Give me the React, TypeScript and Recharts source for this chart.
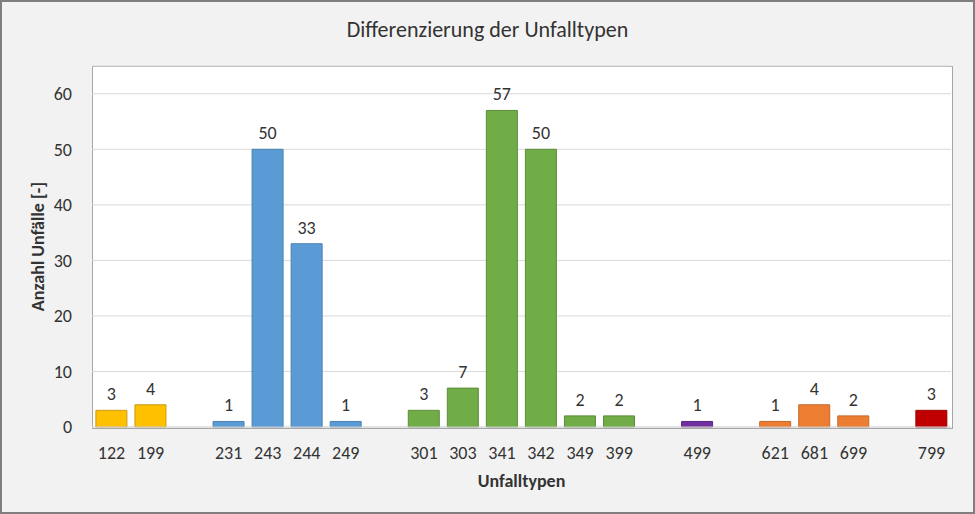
import { BarChart, Bar, XAxis, YAxis, CartesianGrid, Cell, LabelList } from "recharts";

// Unfalltyp codes; empty strings are the spacer slots between the groups
const categories = ["122", "199", "", "231", "243", "244", "249", "", "301", "303", "341", "342", "349", "399", "", "499", "", "621", "681", "699", "", "799"];
const counts: (number | null)[] = [3, 4, null, 1, 50, 33, 1, null, 3, 7, 57, 50, 2, 2, null, 1, null, 1, 4, 2, null, 3];
const groups = ["gelb", "gelb", "", "blau", "blau", "blau", "blau", "", "gruen", "gruen", "gruen", "gruen", "gruen", "gruen", "", "lila", "", "orange", "orange", "orange", "", "rot"];
const yTicks = [0, 10, 20, 30, 40, 50, 60];

const fills: Record<string, string> = {
  gelb: "#FFC000",
  blau: "#5B9BD5",
  gruen: "#70AD47",
  lila: "#7030A0",
  orange: "#ED7D31",
  rot: "#C00000",
};
const strokes: Record<string, string> = {
  gelb: "#c89a10",
  blau: "#4a80b0",
  gruen: "#5b8c3a",
  lila: "#5a2685",
  orange: "#c4682a",
  rot: "#9a0000",
};

const data = categories.map((c, i) => ({ code: c, anzahl: counts[i], group: groups[i] }));

const font = "Calibri, Carlito, 'Open Sans', sans-serif";

export default function App() {
  return (
    <div
      style={{
        position: "absolute",
        left: 0,
        top: 0,
        width: 975,
        height: 514,
        boxSizing: "border-box",
        border: "2px solid #7f7f7f",
        background: "#f2f2f2",
        fontFamily: font,
      }}
    >
      <div
        style={{
          position: "absolute",
          left: 0,
          right: 0,
          top: 14,
          textAlign: "center",
          fontSize: 22,
          color: "#333",
        }}
      >
        Differenzierung der Unfalltypen
      </div>
      <div
        style={{
          position: "absolute",
          left: 90,
          top: 64,
          width: 859,
          height: 361,
          background: "#fff",
          border: "1px solid #a6a6a6",
        }}
      />
      <div style={{ position: "absolute", left: -2, top: -2 }}>
        <BarChart
          width={975}
          height={514}
          data={data}
          margin={{ top: 66, right: 24, bottom: 57, left: 52 }}
          barCategoryGap="10%"
        >
          <CartesianGrid vertical={false} stroke="#d9d9d9" />
          <XAxis
            dataKey="code"
            tickLine={false}
            axisLine={{ stroke: "#d9d9d9" }}
            tickMargin={13}
            interval={0}
            height={30}
            tick={{ fill: "#333", fontSize: 18, fontFamily: font }}
            label={{
              value: "Unfalltypen",
              position: "insideBottom",
              offset: -30,
              fill: "#333",
              fontSize: 18,
              fontWeight: "bold",
              fontFamily: font,
            }}
          />
          <YAxis
            domain={[0, 65]}
            ticks={yTicks}
            tickLine={false}
            axisLine={false}
            tickMargin={14}
            width={40}
            tick={{ fill: "#333", fontSize: 18, fontFamily: font }}
            label={{
              value: "Anzahl Unfälle [-]",
              angle: -90,
              position: "insideLeft",
              offset: -14,
              style: { textAnchor: "middle" },
              fill: "#333",
              fontSize: 18,
              fontWeight: "bold",
              fontFamily: font,
            }}
          />
          <Bar dataKey="anzahl" isAnimationActive={false}>
            {data.map((d, i) => (
              <Cell key={i} fill={fills[d.group] || "none"} stroke={strokes[d.group] || "none"} strokeWidth={1} />
            ))}
            <LabelList
              dataKey="anzahl"
              position="top"
              offset={10}
              fill="#333"
              fontSize={18}
              fontFamily={font}
            />
          </Bar>
        </BarChart>
      </div>
    </div>
  );
}
